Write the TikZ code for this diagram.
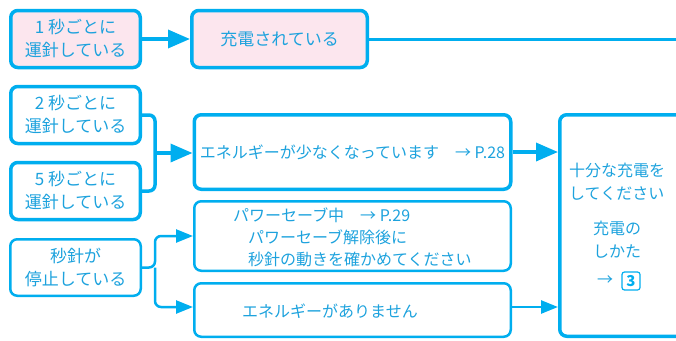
\documentclass[tikz,border=0pt]{standalone}
\usepackage{fontspec}
\setmainfont{Noto Sans CJK JP}
\usepackage{xcolor}
\usepackage{tikz}
\usetikzlibrary{positioning, calc, arrows.meta}
\definecolor{WatchBlue}{HTML}{00AEEF}
\definecolor{WatchText}{HTML}{1DA2DD}
\definecolor{ChargePink}{HTML}{FCE6EE}

\begin{document}
\begin{tikzpicture}[x=1pt, y=-1pt,
					StateBox/.style={draw=WatchBlue, line width=3.5pt, rounded corners=7pt, text=WatchText, align=center, inner sep=0pt, font=\fontsize{17}{23}\selectfont},
					HintBox/.style={draw=WatchBlue, line width=2.5pt, rounded corners=7pt, text=WatchText, align=center, inner sep=0pt, font=\fontsize{17}{23}\selectfont},
					PinkBox/.style={StateBox, fill=ChargePink},
					HintText/.style={text=WatchText, inner sep=0pt, font=\fontsize{16}{22}\selectfont},
					BigArrow/.style={draw=WatchBlue, line width=3.5pt, -{Triangle[length=22pt, width=18pt]}},
					SmallArrow/.style={draw=WatchBlue, line width=2.5pt, -{Triangle[length=17pt, width=13pt]}}]

				\useasboundingbox (0,0) rectangle (676,340);

				% Nodes
				\node[PinkBox, minimum width=129.5pt, minimum height=57pt] (OneSec) at (75.5,39) {1 秒ごとに\\運針している};
				\node[PinkBox, minimum width=175.5pt, minimum height=57pt] (Charging) at (279.5,39) {充電されている};
				\node[StateBox, minimum width=129.5pt, minimum height=57pt] (TwoSec) at (75.5,115) {2 秒ごとに\\運針している};
				\node[StateBox, minimum width=129.5pt, minimum height=57pt] (FiveSec) at (75.5,191) {5 秒ごとに\\運針している};
				\node[HintBox, minimum width=130.5pt, minimum height=56.5pt] (Stopped) at (75.5,267.5) {秒針が\\停止している};

				\node[StateBox, minimum width=316.5pt, minimum height=74.5pt] (LowEnergy) at (352.5,152) {};
				\node[HintText] at (LowEnergy) {エネルギーが少なくなっています　→ P.28};
				\node[HintBox, minimum width=316.5pt, minimum height=69.5pt] (PowerSave) at (352.5,236) {};
				\node[HintText, align=left, anchor=west] at (233,237) {パワーセーブ中　→ P.29\\\hspace*{15pt}パワーセーブ解除後に\\\hspace*{15pt}秒針の動きを確かめてください};
				\node[HintBox, minimum width=316.5pt, minimum height=53.5pt] (NoEnergy) at (352.5,310) {};
				\node[HintText] at (330,311) {エネルギーがありません};

				\node[StateBox, minimum width=128.5pt, minimum height=221.5pt] (ChargeIt) at (624,225.5) {};
				\node[HintText, align=left, anchor=west, font=\fontsize{16}{23}\selectfont] at (569,181.5) {十分な充電を\\してください};
				\node[HintText, align=center, font=\fontsize{16}{23}\selectfont] at (617,239.5) {充電の\\しかた};
				\node[HintText] (PageArrow) at (605,281) {→};
				\node[draw=WatchBlue, line width=1.2pt, rounded corners=2.5pt, minimum width=18pt, minimum height=18pt, inner sep=0pt, text=WatchBlue, font=\bfseries\fontsize{15}{15}\selectfont] (PageRef) at (631,281) {3};

				\coordinate (RightEdge) at (680,38);
				\coordinate (TwoFiveJoin) at (155,153);
				\coordinate (StopJoin) at (155,267.5);

				% Lines
				\draw[BigArrow] (OneSec) -- (Charging);
				\draw[draw=WatchBlue, line width=3pt] (Charging.east) -- (Charging.east -| RightEdge);
				\draw[draw=WatchBlue, line width=3.5pt, rounded corners=6pt] (TwoSec.east) -| (TwoFiveJoin) |- (FiveSec.east);
				\draw[BigArrow] (TwoFiveJoin) -- (TwoFiveJoin -| LowEnergy.west);
				\draw[BigArrow] (LowEnergy.east) -- (LowEnergy.east -| ChargeIt.west);
				\draw[SmallArrow, rounded corners=6pt] (Stopped.east) -- (StopJoin) |- (PowerSave.west);
				\draw[SmallArrow, rounded corners=6pt] (StopJoin) |- ($(NoEnergy.west)+(0,-3)$);
				\draw[SmallArrow] ($(NoEnergy.east)+(0,-3)$) -- ($(NoEnergy.east -| ChargeIt.west)+(0,-3)$);
			\end{tikzpicture}
\end{document}
